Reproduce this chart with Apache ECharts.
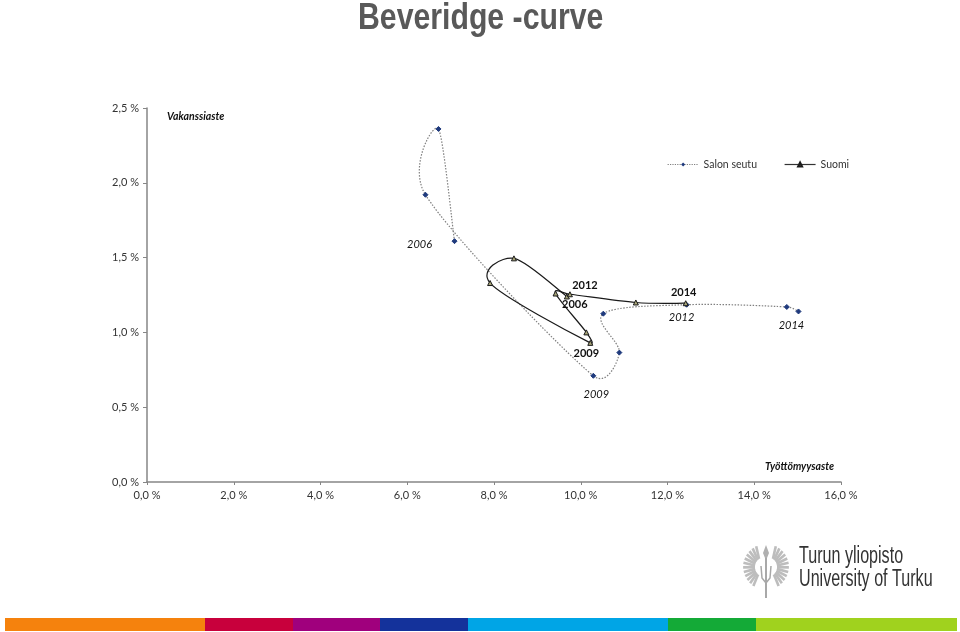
<!DOCTYPE html>
<html>
<head>
<meta charset="utf-8">
<script src="https://cdn.jsdelivr.net/npm/echarts@6/dist/echarts.min.js"></script>
<style>html,body{margin:0;padding:0;background:#fff}#c{width:960px;height:632px}</style>
</head>
<body>
<div id="c"></div>
<script>
const years = ['2006','2007','2008','2009','2010','2011','2012','2013','2014'];
const salonX = [7.09, 6.72, 6.42, 10.29, 10.89, 10.52, 12.44, 14.75, 15.02];
const salonY = [1.61, 2.36, 1.92, 0.71, 0.865, 1.125, 1.185, 1.17, 1.14];
const suomiX = [9.68, 8.46, 7.91, 10.22, 10.13, 9.42, 9.75, 11.27, 12.42];
const suomiY = [1.24, 1.495, 1.33, 0.93, 1.0, 1.26, 1.255, 1.2, 1.195];
const labelledYears = ['2006','2009','2012','2014'];
const salonOffsets = {'2006':[-35,3],'2009':[3,19],'2012':[-5,13],'2014':[-7,14]};
const suomiOffsets = {'2006':[8,8],'2009':[-4,11],'2012':[15,-9],'2014':[-2,-11]};

const FONT = 'Lato,"Liberation Sans",sans-serif';
const WIDE = '"Liberation Sans",Arial,sans-serif';
const fmt = v => v.toFixed(1).replace('.', ',') + ' %';

function buildData(xs, ys, offsets, style) {
  return xs.map((x, i) => {
    const year = years[i];
    const item = { value: [x, ys[i]] };
    if (labelledYears.includes(year)) {
      item.label = Object.assign({
        show: true, position: 'inside', offset: offsets[year], formatter: year,
        fontFamily: FONT, fontSize: 11, color: '#111'
      }, style);
    }
    return item;
  });
}

// Limit a tangent handle to a share of the segment it belongs to
function handle(a, b, segLen) {
  const h = [(b[0] - a[0]) / 6, (b[1] - a[1]) / 6];
  const len = Math.hypot(h[0], h[1]);
  const max = 0.5 * segLen;
  const k = len > max && len > 0 ? max / len : 1;
  return [h[0] * k, h[1] * k];
}

// Spreadsheet-style smoothed segment between consecutive points, via the axes' scales
function curveSeries(name, xs, ys, style) {
  const pts = xs.map((x, i) => [x, ys[i]]);
  return {
    name: name, type: 'custom', coordinateSystem: 'cartesian2d', silent: true, z: 1, clip: false,
    encode: { x: 0, y: 1 }, data: pts,
    renderItem: function (params, api) {
      const i = params.dataIndex;
      if (i >= pts.length - 1) return null;
      const p0 = api.coord(pts[Math.max(i - 1, 0)]);
      const p1 = api.coord(pts[i]);
      const p2 = api.coord(pts[i + 1]);
      const p3 = api.coord(pts[Math.min(i + 2, pts.length - 1)]);
      const seg = Math.hypot(p2[0] - p1[0], p2[1] - p1[1]);
      const h1 = handle(p0, p2, seg);
      const h2 = handle(p1, p3, seg);
      return {
        type: 'bezierCurve',
        shape: {
          x1: p1[0], y1: p1[1], x2: p2[0], y2: p2[1],
          cpx1: p1[0] + h1[0], cpy1: p1[1] + h1[1],
          cpx2: p2[0] - h2[0], cpy2: p2[1] - h2[1]
        },
        style: style
      };
    }
  };
}

// decorative emblem + institution text + colour stripe
const emblem = [];
const cx = 766, cy = 567;
[1, -1].forEach(side => {
  for (let a = 115; a <= 240; a += 11) {
    const r = a * Math.PI / 180;
    const outer = 22 - Math.abs(a - 175) * 0.02;
    emblem.push({
      type: 'line', silent: true,
      shape: {
        x1: cx + side * (4 + 7 * Math.abs(Math.cos(r))), y1: cy - 9 * Math.sin(r),
        x2: cx + side * (outer * Math.abs(Math.cos(r)) + 1), y2: cy - (outer + 2) * Math.sin(r)
      },
      style: { stroke: '#bdbdbd', lineWidth: 2.6 }
    });
  }
});
emblem.push({ type: 'line', silent: true, shape: { x1: cx, y1: 556, x2: cx, y2: 598 }, style: { stroke: '#a8a8a8', lineWidth: 2 } });
emblem.push({ type: 'polygon', silent: true, shape: { points: [[cx, 545], [cx + 3, 553], [cx + 1, 558], [cx - 1, 558], [cx - 3, 553]] }, style: { fill: '#b0b0b0' } });
emblem.push({ type: 'polyline', silent: true, shape: { points: [[cx - 5, 566], [cx - 4, 578], [cx, 583], [cx + 4, 578], [cx + 5, 566]] }, style: { fill: 'none', stroke: '#a8a8a8', lineWidth: 1.5 } });

const stripeColors = ['#f5820d', '#c8003c', '#a0007d', '#14329b', '#00a5e6', '#14aa37', '#a0d21e'];
const stripeEdges = [5, 205, 293, 380, 468, 668, 756, 957];
const stripes = stripeColors.map((c, i) => ({
  type: 'rect', silent: true,
  shape: { x: stripeEdges[i], y: 618, width: stripeEdges[i + 1] - stripeEdges[i], height: 13 },
  style: { fill: c }
}));

const chart = echarts.init(document.getElementById('c'), null, { renderer: 'canvas' });
chart.setOption({
  animation: false,
  backgroundColor: '#fff',
  legend: {
    left: 662, top: 154, itemWidth: 31, itemHeight: 5, itemGap: 27,
    textStyle: { fontFamily: FONT, fontSize: 10.5, color: '#333' },
    data: [
      { name: 'Salon seutu', lineStyle: { opacity: 1, type: 'dotted', color: '#7f7f7f', width: 1.2 } },
      { name: 'Suomi', lineStyle: { opacity: 1, type: 'solid', color: '#333', width: 1.2 } }
    ]
  },
  grid: { left: 147, right: 119, top: 108, bottom: 150 },
  xAxis: {
    type: 'value', min: 0, max: 16, interval: 2,
    name: 'Työttömyysaste', nameLocation: 'end', nameGap: -76,
    nameTextStyle: { fontFamily: FONT, fontSize: 10.5, fontStyle: 'italic', fontWeight: 'bold', color: '#111', verticalAlign: 'bottom', padding: [0, 0, 10, 0] },
    axisLine: { show: true, lineStyle: { color: '#868686', width: 1.5 } },
    axisTick: { show: true, length: 3, lineStyle: { color: '#868686' } },
    splitLine: { show: false },
    axisLabel: { formatter: fmt, fontFamily: FONT, fontSize: 11, color: '#333', margin: 8, showMinLabel: true, showMaxLabel: true }
  },
  yAxis: {
    type: 'value', min: 0, max: 2.5, interval: 0.5,
    name: 'Vakanssiaste', nameLocation: 'end', nameGap: -14,
    nameTextStyle: { fontFamily: FONT, fontSize: 10.5, fontStyle: 'italic', fontWeight: 'bold', color: '#111', align: 'left', padding: [0, 0, 0, 20] },
    axisLine: { show: true, lineStyle: { color: '#868686', width: 1.5 } },
    axisTick: { show: true, length: 4, lineStyle: { color: '#868686' } },
    splitLine: { show: false },
    axisLabel: { formatter: fmt, fontFamily: FONT, fontSize: 11, color: '#333', margin: 8, showMinLabel: true, showMaxLabel: true }
  },
  series: [
    curveSeries('Salon seutu (käyrä)', salonX, salonY, { fill: 'none', stroke: '#808080', lineWidth: 1.2, lineDash: [1.5, 1.5] }),
    curveSeries('Suomi (käyrä)', suomiX, suomiY, { fill: 'none', stroke: '#1a1a1a', lineWidth: 1.2 }),
    {
      name: 'Salon seutu', type: 'line', symbol: 'diamond', symbolSize: 5, z: 3,
      lineStyle: { opacity: 0 },
      itemStyle: { color: '#1f3a7d', borderColor: '#1f3a7d' },
      data: buildData(salonX, salonY, salonOffsets, { fontStyle: 'italic', fontWeight: 'normal' })
    },
    {
      name: 'Suomi', type: 'line', symbol: 'triangle', symbolSize: 5, z: 3,
      lineStyle: { opacity: 0 },
      itemStyle: { color: '#a8a678', borderColor: '#1a1a1a', borderWidth: 1 },
      data: buildData(suomiX, suomiY, suomiOffsets, { fontWeight: 'bold' })
    }
  ],
  graphic: [
    { type: 'text', silent: true, x: 358, y: 0, scaleX: 0.817, style: { text: 'Beveridge -curve', fontFamily: WIDE, fontSize: 37, fontWeight: 'bold', fill: '#595959' } },
    ...emblem,
    ...stripes,
    { type: 'text', silent: true, x: 799, y: 545, scaleX: 0.7, style: { text: 'Turun yliopisto', fontFamily: WIDE, fontSize: 23, fill: '#333' } },
    { type: 'text', silent: true, x: 799, y: 568, scaleX: 0.7, style: { text: 'University of Turku', fontFamily: WIDE, fontSize: 23, fill: '#333' } }
  ]
});
</script>
</body>
</html>
